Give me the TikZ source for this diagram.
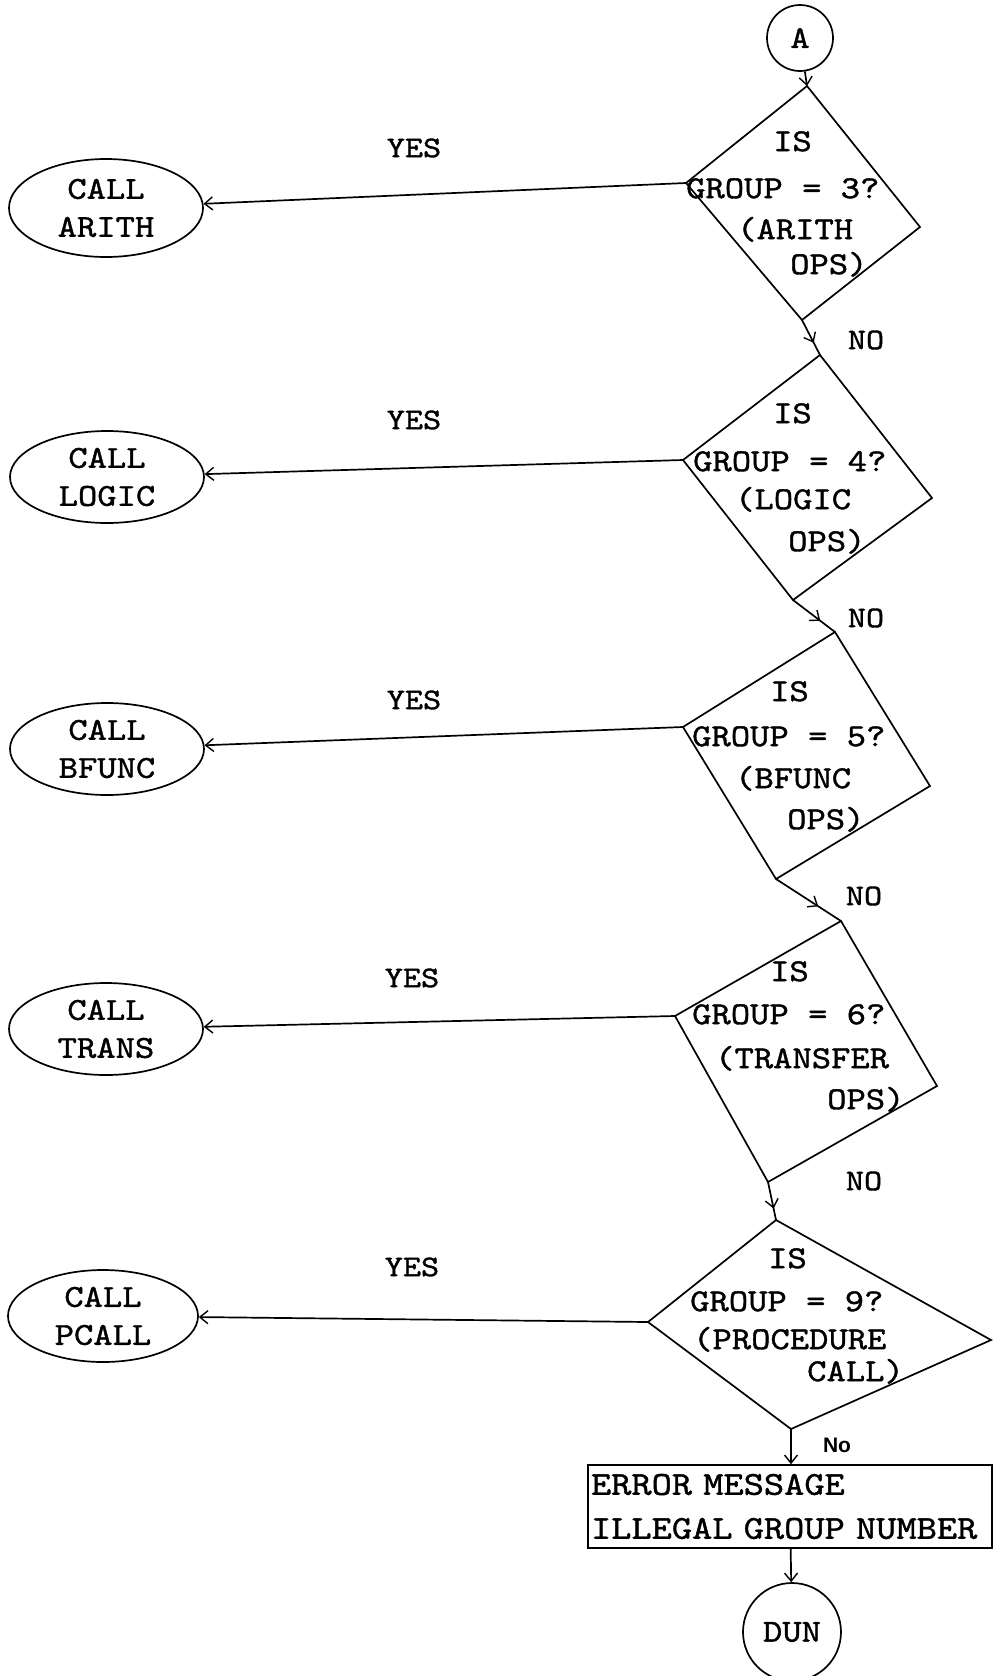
\documentclass[tikz,border=0pt]{standalone}
\usepackage{fontspec}
\setmainfont{lmmono10-regular.otf}[FakeStretch=1.15, FakeBold=1.2]
\newfontfamily\nofont{Liberation Sans}
\usetikzlibrary{shapes.geometric, arrows.meta, decorations.markings}

\tikzset{
  flow/.style={line width=1.7pt},
  barb/.style={-{Straight Barb[length=8pt,width=13pt,line width=1.4pt]}},
  midbarb/.style={postaction={decorate}, decoration={markings,
      mark=at position #1 with {\arrow{Straight Barb[length=8pt,width=13pt,line width=1.4pt]}}}},
  callnode/.style={ellipse, draw, line width=1.7pt, minimum width=194pt,
      minimum height=92pt, inner sep=0pt, align=center, font=\fontsize{32}{38}\selectfont},
  qtext/.style={anchor=north west, inner sep=0pt, align=left, font=\fontsize{32}{38}\selectfont},
  lbl/.style={inner sep=0pt, font=\fontsize{30}{36}\selectfont},
  endnode/.style={circle, draw, line width=1.7pt, inner sep=0pt, font=\fontsize{32}{38}\selectfont}
}

\begin{document}
\begin{tikzpicture}[x=1pt, y=-1pt]
    \useasboundingbox (0,0) rectangle (993,1676);

    %% connector A and the five group tests
    \node[endnode, minimum size=66pt] (a) at (800,38) {A};

    \coordinate (d1t) at (807,86);   \coordinate (d1r) at (920,227);
    \coordinate (d1b) at (802,320);  \coordinate (d1l) at (686,183);
    \coordinate (d2t) at (820,355);  \coordinate (d2r) at (932,498);
    \coordinate (d2b) at (793,600);  \coordinate (d2l) at (683,460);
    \coordinate (d3t) at (835,632);  \coordinate (d3r) at (930,786);
    \coordinate (d3b) at (776,879);  \coordinate (d3l) at (683,727);
    \coordinate (d4t) at (841,921);  \coordinate (d4r) at (937,1086);
    \coordinate (d4b) at (768,1182); \coordinate (d4l) at (675,1016);
    \coordinate (d5t) at (776,1220); \coordinate (d5r) at (991,1340);
    \coordinate (d5b) at (791,1429); \coordinate (d5l) at (648,1322);

    \foreach \i in {1,...,5}
      \draw[flow] (d\i t) -- (d\i r) -- (d\i b) -- (d\i l) -- cycle;

    \node[qtext] (q1) at (686,131)
      {\hspace*{87pt}IS\\[9pt]GROUP = 3?\\[3pt]\hspace*{51pt}(ARITH\\[-3pt]\hspace*{104pt}OPS)};
    \node[qtext] (q2) at (693,403)
      {\hspace*{80pt}IS\\[10pt]GROUP = 4?\\[0pt]\hspace*{42pt}(LOGIC\\[4pt]\hspace*{95pt}OPS)};
    \node[qtext] (q3) at (692,681)
      {\hspace*{78pt}IS\\[7pt]GROUP = 5?\\[4pt]\hspace*{43pt}(BFUNC\\[3pt]\hspace*{95pt}OPS)};
    \node[qtext] (q4) at (692,961)
      {\hspace*{78pt}IS\\[5pt]GROUP = 6?\\[6pt]\hspace*{23pt}(TRANSFER\\[3pt]\hspace*{135pt}OPS)};
    \node[qtext] (q5) at (690,1248)
      {\hspace*{78pt}IS\\[5pt]GROUP = 9?\\[0pt]\hspace*{3pt}(PROCEDURE\\[-6pt]\hspace*{117pt}CALL)};

    %% called routines
    \node[callnode, minimum height=98pt] (arith) at (106,208) {CALL\\ARITH};
    \node[callnode] (logic) at (107,477) {CALL\\LOGIC};
    \node[callnode] (bfunc) at (107,749) {CALL\\BFUNC};
    \node[callnode] (trans) at (106,1029) {CALL\\TRANS};
    \node[callnode, minimum width=190pt] (pcall) at (103,1316) {CALL\\PCALL};

    \node[lbl] (yes1) at (414,148) {YES};
    \node[lbl] (yes2) at (414,420) {YES};
    \node[lbl] (yes3) at (414,700) {YES};
    \node[lbl] (yes4) at (412,978) {YES};
    \node[lbl] (yes5) at (412,1267) {YES};

    \node[lbl] (no1) at (866,340) {NO};
    \node[lbl] (no2) at (866,618) {NO};
    \node[lbl] (no3) at (864,896) {NO};
    \node[lbl] (no4) at (864,1181) {NO};
    \node[inner sep=0pt, font=\nofont\bfseries\fontsize{21}{24}\selectfont] (no5) at (837,1445) {No};

    %% error exit
    \node[draw, line width=1.7pt, minimum height=83pt, text width=398pt, inner xsep=3pt,
          align=left, font=\fontsize{33.5}{38}\selectfont] (err) at (790,1506.5)
      {ERROR MESSAGE\\[6pt]ILLEGAL GROUP NUMBER};
    \node[endnode, minimum size=98pt] (dun) at (792,1632) {DUN};

    %% flow lines
    \draw[flow, barb] (a) -- (d1t);
    \draw[flow, midbarb=0.65] (d1b) -- (d2t);
    \draw[flow, midbarb=0.65] (d2b) -- (d3t);
    \draw[flow, midbarb=0.65] (d3b) -- (d4t);
    \draw[flow, midbarb=0.7] (d4b) -- (d5t);
    \draw[flow, barb] (d5b) -- (d5b |- err.north);
    \draw[flow, barb] (err) -- (dun);

    \draw[flow, barb] (d1l) -- (arith);
    \draw[flow, barb] (d2l) -- (logic);
    \draw[flow, barb] (d3l) -- (bfunc);
    \draw[flow, barb] (d4l) -- (trans);
    \draw[flow, barb] (d5l) -- (pcall);
\end{tikzpicture}
\end{document}
